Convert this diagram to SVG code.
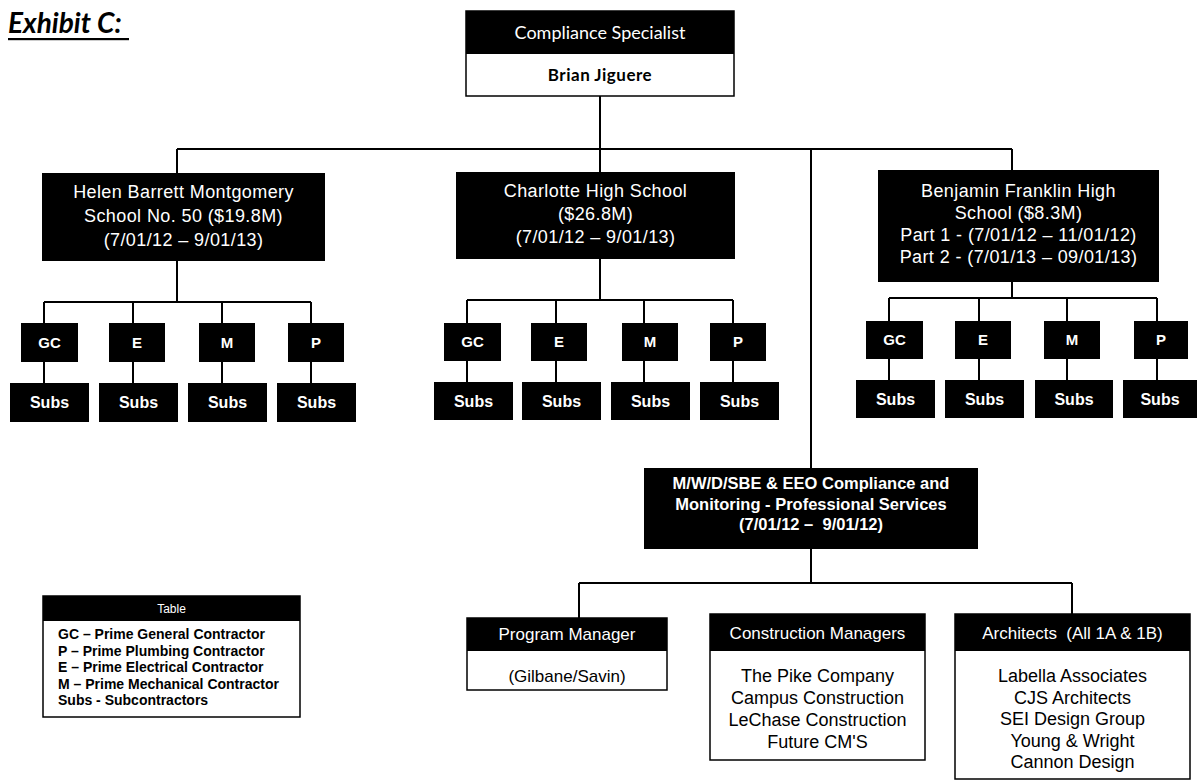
<svg xmlns="http://www.w3.org/2000/svg" width="1198" height="781" viewBox="0 0 1198 781">
  <style>
    .bg{fill:#fff}
    .blk{fill:#000}
    .wbox{fill:#fff;stroke:#000;stroke-width:1.5}
    .conn{stroke:#000;stroke-width:2;fill:none}
    .sans{font-family:"Liberation Sans",Arial,Helvetica,sans-serif;text-anchor:middle}
    .hum{font-family:Lato,"Open Sans","Liberation Sans",sans-serif;text-anchor:middle}
    .wt{fill:#fff}
    .bt{fill:#000}
    .proj{font-size:18px;letter-spacing:0.4px}
    .small{font-size:15px;font-weight:bold}
    .subs{font-size:16px;font-weight:bold}
    .hdr{font-size:17px}
    .list{font-size:18px}
    .leg{font-family:"Liberation Sans",Arial,sans-serif;font-size:14px;font-weight:bold;fill:#000}
  </style>

  <rect class="bg" x="0" y="0" width="1198" height="781"/>

  <!-- page heading -->
  <g id="heading">
    <text x="8" y="33" font-family="Lato,'Open Sans',sans-serif" font-size="28" font-weight="bold" font-style="italic" fill="#000">Exhibit C:</text>
    <rect x="8" y="38" width="121" height="2.2" class="blk"/>
  </g>

  <!-- connectors -->
  <g id="connectors" class="conn">
    <path d="M600,96 V172"/>
    <path d="M177,149 H1012"/>
    <path d="M177,149 V173"/>
    <path d="M811,149 V468"/>
    <path d="M1012,149 V170"/>
    <!-- Helen Barrett Montgomery branch -->
    <path d="M177,261 V302 M44,302 H311 M44,302 V383 M133,302 V383 M222,302 V383 M311,302 V383"/>
    <!-- Charlotte branch -->
    <path d="M600,259 V300 M467,300 H733 M467,300 V382 M556,300 V382 M644,300 V382 M733,300 V382"/>
    <!-- Benjamin Franklin branch -->
    <path d="M1012,282 V298 M889,298 H1157 M889,298 V380 M979,298 V380 M1067,298 V380 M1157,298 V380"/>
    <!-- professional services branch -->
    <path d="M811,549 V583 M579,583 H1072 M579,583 V618 M1072,583 V614"/>
  </g>

  <!-- top node -->
  <g id="compliance-specialist">
    <rect class="wbox" x="466" y="11" width="268" height="85"/>
    <rect class="blk" x="466" y="11" width="268" height="43"/>
    <text class="hum wt" x="600" y="39" font-size="18">Compliance Specialist</text>
    <text class="hum bt" x="600" y="81" font-size="17" font-weight="bold" letter-spacing="0.5">Brian Jiguere</text>
  </g>

  <!-- school projects -->
  <g id="helen-montgomery">
    <rect class="blk" x="42" y="173" width="283" height="88"/>
    <text class="sans wt proj" x="183.5" y="198">Helen Barrett Montgomery</text>
    <text class="sans wt proj" x="183.5" y="222">School No. 50 ($19.8M)</text>
    <text class="sans wt proj" x="183.5" y="246">(7/01/12 – 9/01/13)</text>
  </g>

  <g id="charlotte-high">
    <rect class="blk" x="456" y="172" width="279" height="87"/>
    <text class="sans wt proj" x="595.5" y="197">Charlotte High School</text>
    <text class="sans wt proj" x="595.5" y="220">($26.8M)</text>
    <text class="sans wt proj" x="595.5" y="243">(7/01/12 – 9/01/13)</text>
  </g>

  <g id="benjamin-franklin">
    <rect class="blk" x="878" y="170" width="281" height="112"/>
    <text class="sans wt proj" x="1018.5" y="197">Benjamin Franklin High</text>
    <text class="sans wt proj" x="1018.5" y="219">School ($8.3M)</text>
    <text class="sans wt proj" x="1018.5" y="241">Part 1 - (7/01/12 – 11/01/12)</text>
    <text class="sans wt proj" x="1018.5" y="263">Part 2 - (7/01/13 – 09/01/13)</text>
  </g>

  <!-- Helen contractors -->
  <g id="helen-gc"><rect class="blk" x="21" y="323" width="57" height="39"/><text class="sans wt small" x="49.5" y="348">GC</text></g>
  <g id="helen-e"><rect class="blk" x="109" y="323" width="56" height="39"/><text class="sans wt small" x="137" y="348">E</text></g>
  <g id="helen-m"><rect class="blk" x="199" y="323" width="56" height="39"/><text class="sans wt small" x="227" y="348">M</text></g>
  <g id="helen-p"><rect class="blk" x="288" y="323" width="56" height="39"/><text class="sans wt small" x="316" y="348">P</text></g>
  <g id="helen-gc-subs"><rect class="blk" x="10" y="383" width="79" height="39"/><text class="sans wt subs" x="49.5" y="408">Subs</text></g>
  <g id="helen-e-subs"><rect class="blk" x="99" y="383" width="79" height="39"/><text class="sans wt subs" x="138.5" y="408">Subs</text></g>
  <g id="helen-m-subs"><rect class="blk" x="188" y="383" width="79" height="39"/><text class="sans wt subs" x="227.5" y="408">Subs</text></g>
  <g id="helen-p-subs"><rect class="blk" x="277" y="383" width="79" height="39"/><text class="sans wt subs" x="316.5" y="408">Subs</text></g>

  <!-- Charlotte contractors -->
  <g id="charlotte-gc"><rect class="blk" x="444" y="323" width="57" height="38"/><text class="sans wt small" x="472.5" y="347">GC</text></g>
  <g id="charlotte-e"><rect class="blk" x="531" y="323" width="56" height="38"/><text class="sans wt small" x="559" y="347">E</text></g>
  <g id="charlotte-m"><rect class="blk" x="622" y="323" width="56" height="38"/><text class="sans wt small" x="650" y="347">M</text></g>
  <g id="charlotte-p"><rect class="blk" x="710" y="323" width="56" height="38"/><text class="sans wt small" x="738" y="347">P</text></g>
  <g id="charlotte-gc-subs"><rect class="blk" x="434" y="382" width="79" height="38"/><text class="sans wt subs" x="473.5" y="407">Subs</text></g>
  <g id="charlotte-e-subs"><rect class="blk" x="522" y="382" width="79" height="38"/><text class="sans wt subs" x="561.5" y="407">Subs</text></g>
  <g id="charlotte-m-subs"><rect class="blk" x="611" y="382" width="79" height="38"/><text class="sans wt subs" x="650.5" y="407">Subs</text></g>
  <g id="charlotte-p-subs"><rect class="blk" x="700" y="382" width="79" height="38"/><text class="sans wt subs" x="739.5" y="407">Subs</text></g>

  <!-- Benjamin Franklin contractors -->
  <g id="franklin-gc"><rect class="blk" x="866" y="321" width="57" height="38"/><text class="sans wt small" x="894.5" y="345">GC</text></g>
  <g id="franklin-e"><rect class="blk" x="955" y="321" width="56" height="38"/><text class="sans wt small" x="983" y="345">E</text></g>
  <g id="franklin-m"><rect class="blk" x="1044" y="321" width="56" height="38"/><text class="sans wt small" x="1072" y="345">M</text></g>
  <g id="franklin-p"><rect class="blk" x="1134" y="321" width="54" height="38"/><text class="sans wt small" x="1161" y="345">P</text></g>
  <g id="franklin-gc-subs"><rect class="blk" x="856" y="380" width="79" height="38"/><text class="sans wt subs" x="895.5" y="405">Subs</text></g>
  <g id="franklin-e-subs"><rect class="blk" x="945" y="380" width="79" height="38"/><text class="sans wt subs" x="984.5" y="405">Subs</text></g>
  <g id="franklin-m-subs"><rect class="blk" x="1035" y="380" width="78" height="38"/><text class="sans wt subs" x="1074" y="405">Subs</text></g>
  <g id="franklin-p-subs"><rect class="blk" x="1123" y="380" width="74" height="38"/><text class="sans wt subs" x="1160" y="405">Subs</text></g>

  <!-- professional services -->
  <g id="professional-services">
    <rect class="blk" x="644" y="468" width="334" height="81"/>
    <text class="sans wt" x="811" y="489" font-size="16.5" font-weight="bold">M/W/D/SBE &amp; EEO Compliance and</text>
    <text class="sans wt" x="811" y="510" font-size="16.5" font-weight="bold">Monitoring - Professional Services</text>
    <text class="sans wt" x="811" y="530" font-size="16.5" font-weight="bold" xml:space="preserve">(7/01/12 –  9/01/12)</text>
  </g>

  <g id="program-manager">
    <rect class="wbox" x="467" y="618" width="200" height="72"/>
    <rect class="blk" x="467" y="618" width="200" height="33"/>
    <text class="sans wt hdr" x="567" y="640">Program Manager</text>
    <text class="sans bt hdr" x="567" y="682">(Gilbane/Savin)</text>
  </g>

  <g id="construction-managers">
    <rect class="wbox" x="710" y="614" width="215" height="146"/>
    <rect class="blk" x="710" y="614" width="215" height="37"/>
    <text class="sans wt hdr" x="817.5" y="639">Construction Managers</text>
    <text class="sans bt list" x="817.5" y="682">The Pike Company</text>
    <text class="sans bt list" x="817.5" y="704">Campus Construction</text>
    <text class="sans bt list" x="817.5" y="726">LeChase Construction</text>
    <text class="sans bt list" x="817.5" y="748">Future CM'S</text>
  </g>

  <g id="architects">
    <rect class="wbox" x="955" y="614" width="235" height="165"/>
    <rect class="blk" x="955" y="614" width="235" height="37"/>
    <text class="sans wt hdr" x="1072.5" y="639" xml:space="preserve">Architects  (All 1A &amp; 1B)</text>
    <text class="sans bt list" x="1072.5" y="682">Labella Associates</text>
    <text class="sans bt list" x="1072.5" y="703.5">CJS Architects</text>
    <text class="sans bt list" x="1072.5" y="725">SEI Design Group</text>
    <text class="sans bt list" x="1072.5" y="746.5">Young &amp; Wright</text>
    <text class="sans bt list" x="1072.5" y="768">Cannon Design</text>
  </g>

  <!-- abbreviation key -->
  <g id="legend">
    <rect class="wbox" x="43" y="596" width="257" height="121"/>
    <rect class="blk" x="43" y="596" width="257" height="25"/>
    <text class="sans wt" x="171.5" y="613" font-size="12">Table</text>
    <text class="leg" x="58" y="639">GC – Prime General Contractor</text>
    <text class="leg" x="58" y="655.5">P – Prime Plumbing Contractor</text>
    <text class="leg" x="58" y="672">E – Prime Electrical Contractor</text>
    <text class="leg" x="58" y="688.5">M – Prime Mechanical Contractor</text>
    <text class="leg" x="58" y="705">Subs - Subcontractors</text>
  </g>
</svg>
